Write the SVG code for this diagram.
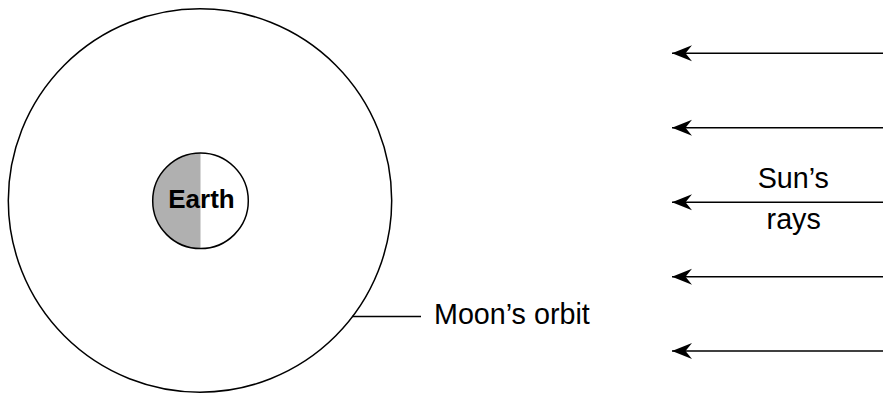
<svg xmlns="http://www.w3.org/2000/svg" width="883" height="395" viewBox="0 0 883 395">
<style>
.ln{stroke:#000;stroke-width:1.5;fill:none}
.lbl{font-family:"Liberation Sans",Arial,sans-serif;font-size:28.7px;fill:#000}
.bold{font-family:"Liberation Sans",Arial,sans-serif;font-size:26px;font-weight:bold;fill:#000}
</style>
<defs>
<marker id="ah" markerUnits="userSpaceOnUse" markerWidth="24" markerHeight="20" refX="20" refY="8" orient="auto" viewBox="0 0 24 16">
<path d="M20,8 L0,0 L6.5,8 L0,16 Z" fill="#000"/>
</marker>
<clipPath id="lefthalf"><rect x="140" y="140" width="60.5" height="120"/></clipPath>
</defs>
<rect width="883" height="395" fill="#fff"/>
<g id="orbit">
<circle class="ln" cx="200" cy="200.5" r="191.7"/>
</g>
<g id="earth">
<circle cx="200.5" cy="200.8" r="47.8" fill="#fff"/>
<circle cx="200.5" cy="200.8" r="47.8" fill="#b0b0b0" clip-path="url(#lefthalf)"/>
<circle class="ln" cx="200.5" cy="200.8" r="47.8"/>
<text class="bold" x="201.5" y="208.3" text-anchor="middle">Earth</text>
</g>
<g id="moon-label">
<text class="lbl" x="434" y="324.3" font-size="29.2">Moon’s orbit</text>
</g>
<g id="sun-label">
<text class="lbl" x="793.3" y="188.3" text-anchor="middle">Sun’s</text>
<text class="lbl" x="793.7" y="229.3" text-anchor="middle">rays</text>
</g>
<g id="connectors">
<line class="ln" x1="352" y1="316.5" x2="421" y2="316.5"/>
<line class="ln" x1="883" y1="53.3" x2="672" y2="53.3" marker-end="url(#ah)"/>
<line class="ln" x1="883" y1="127.7" x2="672" y2="127.7" marker-end="url(#ah)"/>
<line class="ln" x1="883" y1="202.3" x2="672" y2="202.3" marker-end="url(#ah)"/>
<line class="ln" x1="883" y1="276.7" x2="672" y2="276.7" marker-end="url(#ah)"/>
<line class="ln" x1="883" y1="351" x2="672" y2="351" marker-end="url(#ah)"/>
</g>
</svg>
